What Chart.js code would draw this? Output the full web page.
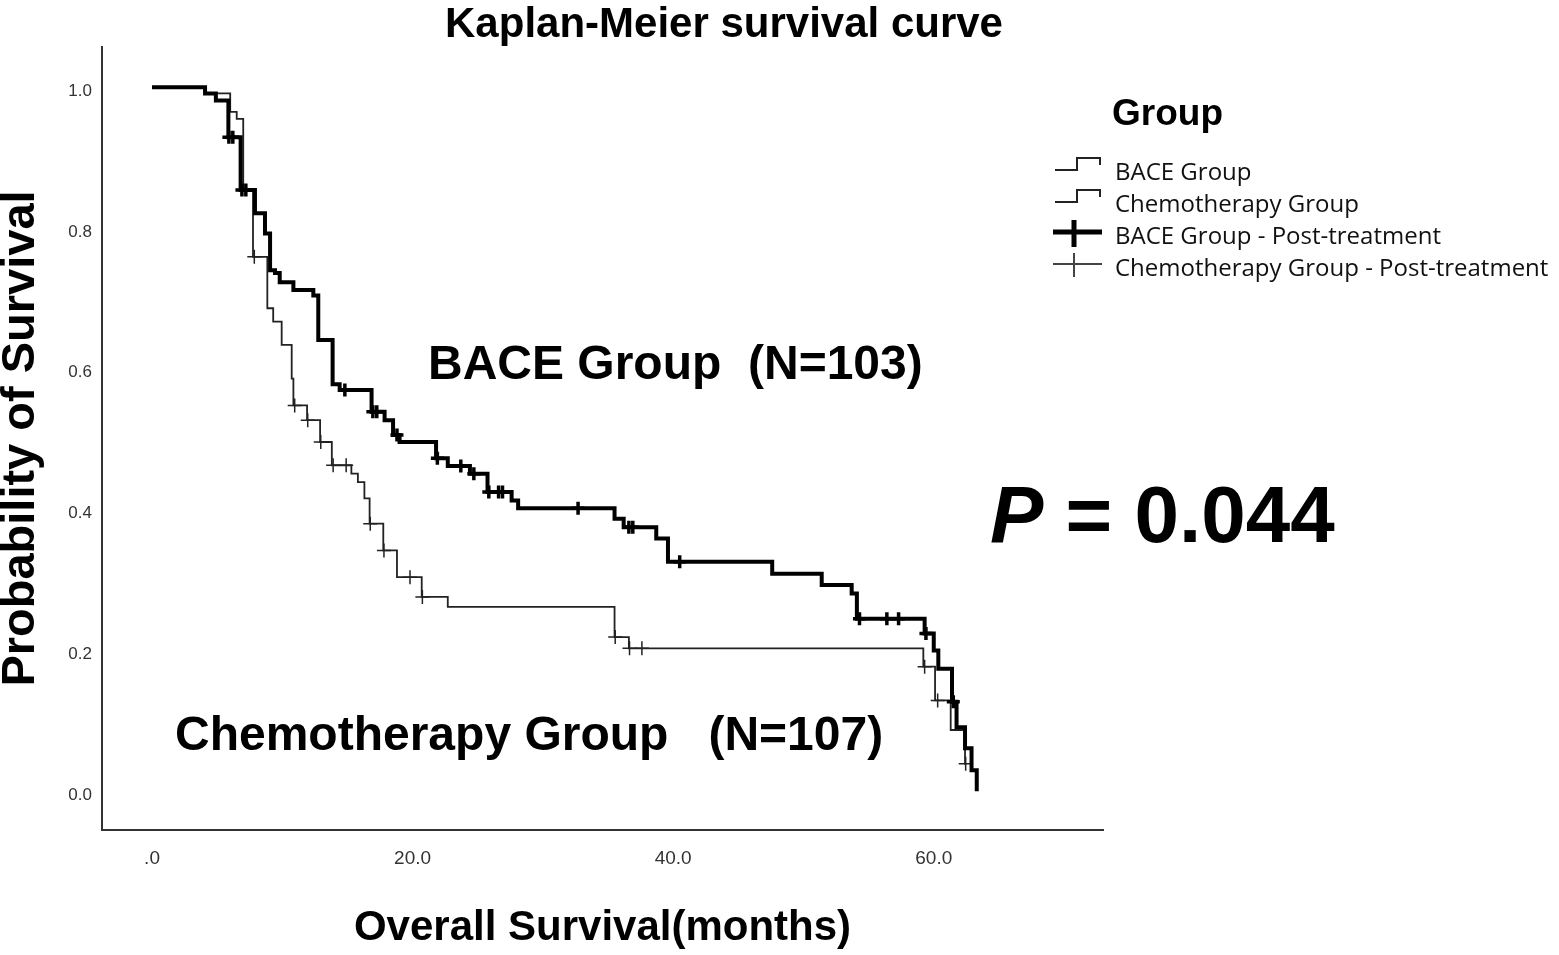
<!DOCTYPE html>
<html>
<head>
<meta charset="utf-8">
<script src="https://cdn.jsdelivr.net/npm/chart.js@4"></script>
<style>
html,body{margin:0;padding:0;background:#fff;}
canvas{display:block;}
</style>
</head>
<body>
<canvas id="km" width="1559" height="955"></canvas>
<script>
// ---- Data (months, survival probability) ----
const baceTimes = [0, 4.07, 4.9, 5.86, 6.8, 7.9, 8.67, 9.06, 9.44, 9.8, 10.85, 12.38, 12.76, 13.86, 14.4, 16.85, 17.85, 18.5, 19.0, 21.8, 22.7, 24.4, 25.75, 27.6, 28.1, 35.5, 36.2, 38.7, 39.6, 47.6, 51.4, 53.7, 54.1, 59.3, 60.0, 60.35, 61.4, 61.75, 62.4, 62.9, 63.3];
const baceSurv  = [1.0, 0.991, 0.981, 0.929, 0.854, 0.821, 0.792, 0.740, 0.736, 0.723, 0.712, 0.704, 0.641, 0.578, 0.570, 0.539, 0.527, 0.506, 0.496, 0.473, 0.462, 0.451, 0.425, 0.413, 0.402, 0.387, 0.375, 0.359, 0.326, 0.309, 0.293, 0.281, 0.245, 0.224, 0.200, 0.174, 0.127, 0.091, 0.061, 0.030, 0.0];

const baceCensorTimes = [5.9, 6.2, 6.9, 7.2, 14.8, 16.95, 17.25, 18.8, 21.9, 23.7, 24.7, 25.85, 26.6, 26.9, 32.7, 36.6, 36.9, 40.5, 54.3, 56.4, 57.3, 59.4, 61.5];
const baceCensorSurv  = [0.929, 0.929, 0.854, 0.854, 0.570, 0.539, 0.539, 0.506, 0.473, 0.462, 0.451, 0.425, 0.425, 0.425, 0.402, 0.375, 0.375, 0.326, 0.245, 0.245, 0.245, 0.224, 0.127];

const chemoTimes = [0, 4.07, 6.0, 6.5, 7.0, 7.75, 8.85, 9.3, 9.95, 10.72, 10.85, 11.9, 12.9, 13.8, 15.3, 15.8, 16.3, 16.7, 17.75, 18.8, 20.7, 22.7, 35.5, 36.6, 59.2, 60.1, 61.3, 62.4, 62.5];
const chemoSurv  = [1.0, 0.991, 0.965, 0.955, 0.854, 0.759, 0.686, 0.667, 0.634, 0.586, 0.548, 0.527, 0.496, 0.463, 0.451, 0.439, 0.416, 0.380, 0.342, 0.304, 0.276, 0.262, 0.219, 0.203, 0.177, 0.129, 0.087, 0.039, 0.039];

const chemoCensorTimes = [7.85, 10.95, 11.95, 12.95, 13.9, 14.9, 16.75, 17.8, 19.8, 20.75, 35.55, 36.65, 37.6, 59.3, 60.3, 62.45];
const chemoCensorSurv  = [0.759, 0.548, 0.527, 0.496, 0.463, 0.463, 0.380, 0.342, 0.304, 0.276, 0.219, 0.203, 0.203, 0.177, 0.129, 0.039];

const xTickValues = [0, 20, 40, 60];
const xTickLabels = ['.0', '20.0', '40.0', '60.0'];
const yTickValues = [0, 0.2, 0.4, 0.6, 0.8, 1.0];
const yTickLabels = ['0.0', '0.2', '0.4', '0.6', '0.8', '1.0'];

const seriesNames = ['BACE Group', 'Chemotherapy Group', 'BACE Group - Post-treatment', 'Chemotherapy Group - Post-treatment'];
const chartTitle = 'Kaplan-Meier survival curve';
const xTitle = 'Overall Survival(months)';
const yTitle = 'Probability of Survival';
const legendTitle = 'Group';
const baceNote = 'BACE Group  (N=103)';
const chemoNote = 'Chemotherapy Group   (N=107)';
const pLabel = 'P';
const pValueText = ' = 0.044';

const toPoints = (xs, ys) => xs.map((x, i) => ({x: x, y: ys[i]}));

// ---- Text, legend and annotations drawn on the canvas ----
const decorPlugin = {
  id: 'decor',
  beforeDraw(chart) {
    const c = chart.ctx;
    c.save();
    c.fillStyle = '#ffffff';
    c.fillRect(0, 0, chart.width, chart.height);
    c.restore();
  },
  afterDraw(chart) {
    const c = chart.ctx;
    c.save();
    c.fillStyle = '#000';
    c.textBaseline = 'alphabetic';

    // title
    c.font = 'bold 42px "Liberation Sans", Arial, sans-serif';
    c.textAlign = 'center';
    c.fillText(chartTitle, 724, 37);

    // in-plot annotations
    c.textAlign = 'left';
    c.font = 'bold 48px "Liberation Sans", Arial, sans-serif';
    c.fillText(baceNote, 428, 379);
    c.fillText(chemoNote, 175, 750);

    // P value
    c.font = 'italic bold 80px "Liberation Sans", Arial, sans-serif';
    c.fillText(pLabel, 990, 542);
    const pw = c.measureText(pLabel).width;
    c.font = 'bold 80px "Liberation Sans", Arial, sans-serif';
    c.fillText(pValueText, 990 + pw, 542);

    // legend title
    c.font = 'bold 37px "Liberation Sans", Arial, sans-serif';
    c.fillText(legendTitle, 1112, 125);

    // legend entries
    c.font = '24px "Open Sans", "Noto Sans", sans-serif';
    c.fillStyle = '#111';
    const baselines = [180, 212, 244, 276];
    seriesNames.forEach((n, i) => c.fillText(n, 1115, baselines[i]));

    // legend icons: step lines
    c.strokeStyle = '#222';
    c.lineWidth = 2;
    [0, 32].forEach(dy => {
      c.beginPath();
      c.moveTo(1055, 170 + dy);
      c.lineTo(1077, 170 + dy);
      c.lineTo(1077, 158 + dy);
      c.lineTo(1100, 158 + dy);
      c.lineTo(1100, 165 + dy);
      c.stroke();
    });
    // legend icons: censor crosses
    c.strokeStyle = '#000';
    c.lineWidth = 5;
    c.beginPath();
    c.moveTo(1053, 232); c.lineTo(1102, 232);
    c.moveTo(1074, 220); c.lineTo(1074, 247);
    c.stroke();
    c.strokeStyle = '#444';
    c.lineWidth = 2;
    c.beginPath();
    c.moveTo(1053, 264); c.lineTo(1102, 264);
    c.moveTo(1074, 253); c.lineTo(1074, 277);
    c.stroke();
    c.restore();
  }
};

new Chart(document.getElementById('km'), {
  type: 'line',
  data: {
    datasets: [
      {
        label: seriesNames[2],
        data: toPoints(baceCensorTimes, baceCensorSurv),
        showLine: false,
        pointStyle: 'cross',
        pointRadius: 6.5,
        pointBorderWidth: 3.5,
        pointBorderColor: '#000',
        borderColor: '#000',
        order: 0
      },
      {
        label: seriesNames[0],
        data: toPoints(baceTimes, baceSurv),
        stepped: 'before',
        borderColor: '#000',
        borderWidth: 4,
        pointRadius: 0,
        fill: false,
        order: 1
      },
      {
        label: seriesNames[3],
        data: toPoints(chemoCensorTimes, chemoCensorSurv),
        showLine: false,
        pointStyle: 'cross',
        pointRadius: 7,
        pointBorderWidth: 1.5,
        pointBorderColor: '#222',
        borderColor: '#222',
        order: 2
      },
      {
        label: seriesNames[1],
        data: toPoints(chemoTimes, chemoSurv),
        stepped: 'before',
        borderColor: '#222',
        borderWidth: 1.8,
        pointRadius: 0,
        fill: false,
        order: 3
      }
    ]
  },
  options: {
    responsive: false,
    animation: false,
    events: [],
    layout: { padding: { top: 47, right: 456, left: 0, bottom: 0 } },
    plugins: {
      legend: { display: false },
      title: { display: false },
      tooltip: { enabled: false }
    },
    scales: {
      x: {
        type: 'linear',
        min: -3.84,
        max: 72.99,
        grid: { display: false, drawTicks: false },
        border: { display: true, color: '#333', width: 2 },
        afterBuildTicks: s => { s.ticks = xTickValues.map(v => ({value: v})); },
        afterFit: s => { s.height = 125; },
        ticks: {
          padding: 17,
          color: '#333',
          font: { family: '"Liberation Sans", Arial, sans-serif', size: 19 },
          maxRotation: 0,
          callback: (v, i) => xTickLabels[i]
        },
        title: {
          display: true,
          text: xTitle,
          color: '#000',
          font: { family: '"Liberation Sans", Arial, sans-serif', size: 42, weight: 'bold', lineHeight: 1 },
          padding: { top: 0, bottom: 6 }
        }
      },
      y: {
        type: 'linear',
        min: -0.055,
        max: 1.057,
        grid: { display: false, drawTicks: false },
        border: { display: true, color: '#333', width: 2 },
        afterBuildTicks: s => { s.ticks = yTickValues.map(v => ({value: v})); },
        afterFit: s => { s.width = 102; },
        ticks: {
          padding: 10,
          labelOffset: 4,
          color: '#333',
          font: { family: '"Liberation Sans", Arial, sans-serif', size: 17 },
          callback: (v, i) => yTickLabels[i]
        },
        title: {
          display: true,
          text: yTitle,
          color: '#000',
          font: { family: '"Liberation Sans", Arial, sans-serif', size: 47, weight: 'bold', lineHeight: 0.9 },
          padding: { top: 0, bottom: 0 }
        }
      }
    }
  },
  plugins: [decorPlugin]
});
</script>
</body>
</html>
